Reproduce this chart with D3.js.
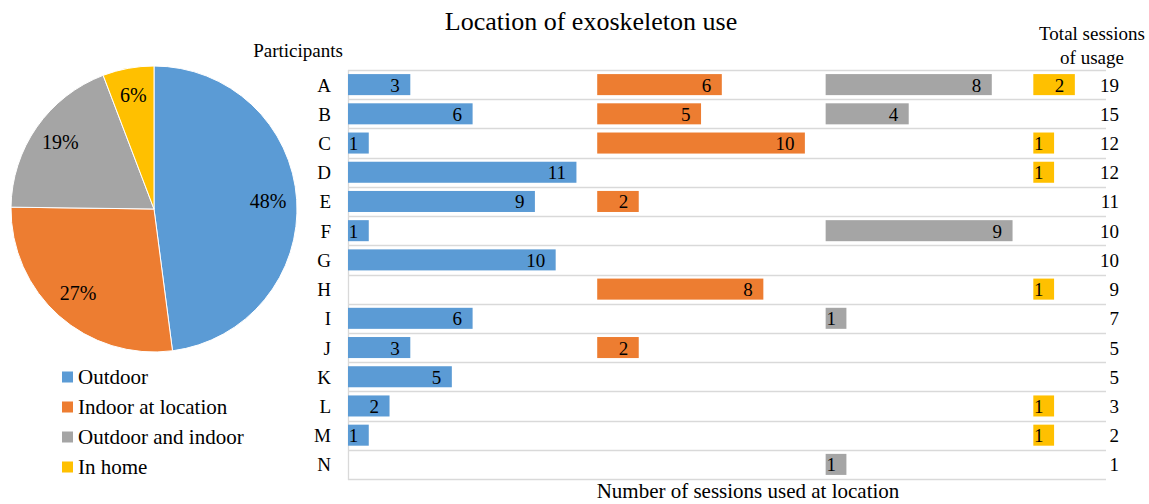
<!DOCTYPE html>
<html>
<head>
<meta charset="utf-8">
<script src="https://cdn.jsdelivr.net/npm/d3@7"></script>
<style>
  html, body { margin: 0; padding: 0; background: #fff; }
  svg text { font-family: "Liberation Serif", serif; fill: #000; }
</style>
</head>
<body>
<svg id="chart" width="1149" height="504"></svg>
<script>
// Participants and the number of sessions each spent at every location
const participants = ["A","B","C","D","E","F","G","H","I","J","K","L","M","N"];
const seriesNames = ["Outdoor", "Indoor at location", "Outdoor and indoor", "In home"];
const outdoor          = [3, 6, 1, 11, 9, 1, 10, 0, 6, 3, 5, 2, 1, 0];
const indoorAtLocation = [6, 5, 10, 0, 2, 0, 0, 8, 0, 2, 0, 0, 0, 0];
const outdoorAndIndoor = [8, 4, 0, 0, 0, 9, 0, 0, 1, 0, 0, 0, 0, 1];
const inHome           = [2, 0, 1, 1, 0, 0, 0, 1, 0, 0, 0, 1, 1, 0];
const colors = ["#5B9BD5", "#ED7D31", "#A5A5A5", "#FFC000"];

const series = [outdoor, indoorAtLocation, outdoorAndIndoor, inHome];
const totals = participants.map((_, i) => d3.sum(series, s => s[i]));
const seriesTotals = series.map(s => d3.sum(s));

// each location gets its own column: starts one unit past the widest bar of the previous one
const offsets = [];
series.forEach((s, k) => {
  offsets.push(k === 0 ? 0 : offsets[k - 1] + d3.max(series[k - 1]) + 1);
});
const xMax = offsets[3] + d3.max(series[3]) + 1.5;

const svg = d3.select("#chart");

// ---------- title ----------
svg.append("text")
  .attr("x", 591).attr("y", 30)
  .attr("text-anchor", "middle")
  .attr("font-size", 26)
  .text("Location of exoskeleton use");

// ---------- pie ----------
const R = 143;
const pieG = svg.append("g").attr("transform", "translate(154,209)");
const pie = d3.pie().sort(null).value(d => d)(seriesTotals);
const arc = d3.arc().innerRadius(0).outerRadius(R);
const labelArc = d3.arc().innerRadius(0.8 * R).outerRadius(0.8 * R);
const grand = d3.sum(seriesTotals);

pieG.selectAll("path.slice")
  .data(pie)
  .join("path")
  .attr("class", "slice")
  .attr("d", arc)
  .attr("fill", (d, i) => colors[i])
  .attr("stroke", "#fff")
  .attr("stroke-width", 1);

pieG.selectAll("text.pct")
  .data(pie)
  .join("text")
  .attr("class", "pct")
  .attr("transform", d => `translate(${labelArc.centroid(d)})`)
  .attr("text-anchor", "middle")
  .attr("dy", "0.3em")
  .attr("font-size", 20)
  .text(d => d3.format(".0%")(d.value / grand));

// ---------- legend ----------
const legend = svg.append("g");
const legendY = d3.scalePoint().domain(seriesNames).range([377, 467]);
seriesNames.forEach((name, i) => {
  legend.append("rect")
    .attr("x", 62).attr("y", legendY(name) - 5.5)
    .attr("width", 11).attr("height", 11)
    .attr("fill", colors[i]);
  legend.append("text")
    .attr("x", 78).attr("y", legendY(name) + 6.5)
    .attr("font-size", 21)
    .text(name);
});

// ---------- bar panel ----------
const x = d3.scaleLinear().domain([0, xMax]).range([348, 1106]);
const y = d3.scaleBand().domain(participants).range([70, 479])
  .paddingInner(0.28).paddingOuter(0.14);
const step = y.step();

// horizontal row separators
const grid = svg.append("g");
d3.range(participants.length + 1).forEach(i => {
  const yy = Math.round(70 + i * step) + 0.5;
  grid.append("line")
    .attr("x1", x(0)).attr("x2", x(xMax))
    .attr("y1", yy).attr("y2", yy)
    .attr("stroke", "#D9D9D9").attr("stroke-width", 1.3);
});
grid.append("line")
  .attr("x1", x(0) + 0.5).attr("x2", x(0) + 0.5)
  .attr("y1", 70).attr("y2", Math.round(70 + participants.length * step) + 1)
  .attr("stroke", "#D9D9D9").attr("stroke-width", 1.3);

// bars
series.forEach((vals, k) => {
  const g = svg.append("g");
  const rows = participants.map((p, i) => ({ p, v: vals[i] })).filter(d => d.v > 0);
  g.selectAll("rect")
    .data(rows)
    .join("rect")
    .attr("x", x(offsets[k]))
    .attr("y", d => y(d.p))
    .attr("width", d => x(offsets[k] + d.v) - x(offsets[k]))
    .attr("height", y.bandwidth())
    .attr("fill", colors[k]);
  g.selectAll("text")
    .data(rows)
    .join("text")
    .attr("x", d => x(offsets[k] + d.v) - 10.5)
    .attr("y", d => y(d.p) + y.bandwidth() / 2 + 7)
    .attr("text-anchor", "end")
    .attr("font-size", 19)
    .text(d => d.v);
});

// participant labels
svg.append("g").selectAll("text")
  .data(participants)
  .join("text")
  .attr("x", 331)
  .attr("y", d => y(d) + y.bandwidth() / 2 + 7)
  .attr("text-anchor", "end")
  .attr("font-size", 19)
  .text(d => d);

// row totals
svg.append("g").selectAll("text")
  .data(participants)
  .join("text")
  .attr("x", 1119)
  .attr("y", d => y(d) + y.bandwidth() / 2 + 7)
  .attr("text-anchor", "end")
  .attr("font-size", 19)
  .text((d, i) => totals[i]);

// headers
svg.append("text")
  .attr("x", 298).attr("y", 57)
  .attr("text-anchor", "middle").attr("font-size", 19)
  .text("Participants");
svg.append("text")
  .attr("x", 1092).attr("y", 40)
  .attr("text-anchor", "middle").attr("font-size", 19)
  .text("Total sessions");
svg.append("text")
  .attr("x", 1092).attr("y", 64)
  .attr("text-anchor", "middle").attr("font-size", 19)
  .text("of usage");

// axis title
svg.append("text")
  .attr("x", 748).attr("y", 498)
  .attr("text-anchor", "middle").attr("font-size", 21)
  .text("Number of sessions used at location");

svg.selectAll("text").attr("font-family", "Liberation Serif");
</script>
</body>
</html>
